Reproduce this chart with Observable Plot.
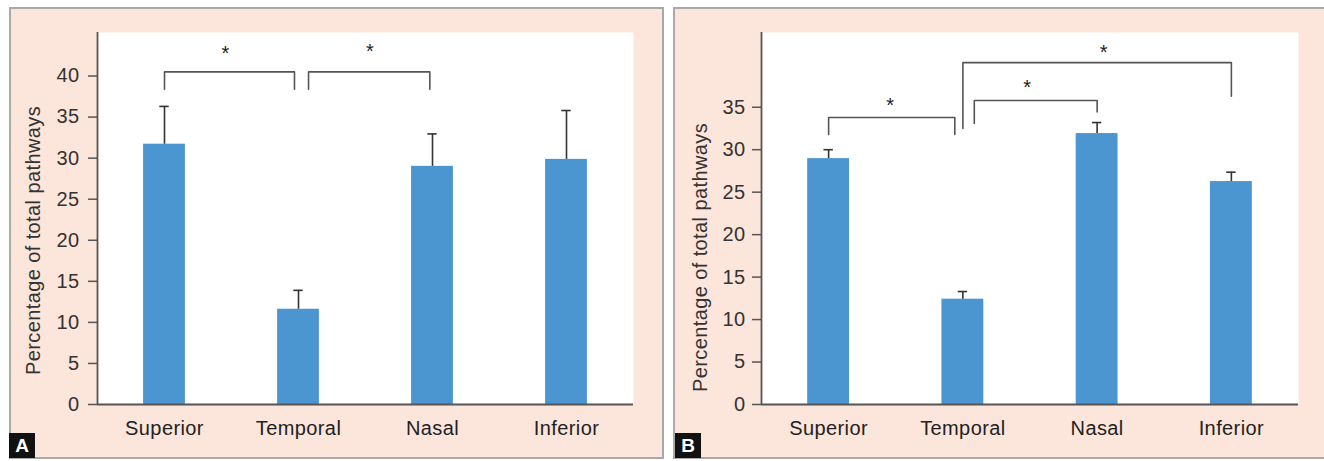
<!DOCTYPE html>
<html>
<head>
<meta charset="utf-8">
<script src="https://cdn.jsdelivr.net/npm/d3@7"></script>
<script src="https://cdn.jsdelivr.net/npm/@observablehq/plot@0.6"></script>
<style>
  html, body { margin: 0; padding: 0; background: #ffffff; width: 1324px; height: 461px; overflow: hidden; }
  .panel { position: absolute; background: #fce5da; box-sizing: border-box; border: 2px solid #a9a9a9; }
  .chart { position: absolute; }
  .tag { position: absolute; width: 26px; height: 25px; background: #111; color: #fff;
         font: bold 19px "Liberation Sans", Arial, sans-serif; display: flex; align-items: center; justify-content: center; }
</style>
</head>
<body>
<div class="panel" style="left:9px;top:7px;width:655px;height:452px;"></div>
<div class="panel" style="left:673px;top:7px;width:655px;height:452px;"></div>
<div id="chartA" class="chart" style="left:9px;top:7px;"></div>
<div id="chartB" class="chart" style="left:674px;top:7px;"></div>
<div class="tag" style="left:9px;top:433px;">A</div>
<div class="tag" style="left:675px;top:433px;">B</div>
<script>
// ---- data ----
const categories = ["Superior", "Temporal", "Nasal", "Inferior"];
const yTicksA = [0, 5, 10, 15, 20, 25, 30, 35, 40];
const yTicksB = [0, 5, 10, 15, 20, 25, 30, 35];
const yLabel = "Percentage of total pathways";

const valuesA = [31.7, 11.6, 29.0, 29.85];
const errTopA = [36.3, 13.9, 32.95, 35.8];
const valuesB = [28.95, 12.4, 31.9, 26.25];
const errTopB = [30.0, 13.3, 33.2, 27.35];

// significance brackets: [fromIndex, toIndex, leftLegBottom, top, rightLegBottom]
const bracketsA = [
  [0.0, 0.97, 38.4, 40.5, 38.4],
  [1.075, 1.98, 38.4, 40.5, 38.4]
];
const bracketsB = [
  [0.0, 0.94, 31.8, 33.8, 31.8],
  [1.085, 2.0, 33.1, 35.8, 34.45],
  [1.0, 3.0, 32.5, 40.25, 36.3]
];
// star markers: [x position (category units), top of star (y units)]
const starsA = [[0.455, 43.7], [1.535, 43.9]];
const starsB = [[0.46, 36.1], [1.48, 38.2], [2.05, 42.3]];

function build(values, errs, brackets, stars, yTicks, yMax, opts) {
  const bars = categories.map((c, i) => ({i, cat: c, value: values[i], err: errs[i]}));
  const pts = [];
  brackets.forEach((b, k) => {
    pts.push({k, x: b[0], y: b[2]});
    pts.push({k, x: b[0], y: b[3]});
    pts.push({k, x: b[1], y: b[3]});
    pts.push({k, x: b[1], y: b[4]});
  });
  const starData = stars.map(s => ({x: s[0], y: s[1]}));
  const hw = 0.156, cap = 0.035;
  return Plot.plot({
    width: opts.width,
    height: 452,
    marginLeft: opts.marginLeft,
    marginRight: opts.marginRight,
    marginTop: 25,
    marginBottom: 55,
    style: {background: "transparent", fontFamily: "'Liberation Sans', Arial, sans-serif", letterSpacing: "0.4px", color: "#333"},
    x: {type: "linear", domain: [-0.5, 3.5]},
    y: {domain: [0, yMax]},
    marks: [
      Plot.frame({fill: "white", stroke: "none"}),
      Plot.rectY(bars, {x1: d => d.i - hw, x2: d => d.i + hw, y1: 0, y2: "value", fill: "#4b96d1"}),
      Plot.ruleX(bars, {x: "i", y1: "value", y2: "err", stroke: "#333", strokeWidth: 1.6}),
      Plot.ruleY(bars, {y: "err", x1: d => d.i - cap, x2: d => d.i + cap, stroke: "#333", strokeWidth: 1.6}),
      Plot.line(pts, {x: "x", y: "y", z: "k", stroke: "#555", strokeWidth: 1.6, curve: "linear"}),
      Plot.text(starData, {x: "x", y: "y", text: () => "*", lineAnchor: "top", fontSize: 20, fill: "#222"}),
      Plot.ruleX([-0.5], {stroke: "#555", strokeWidth: 1.8}),
      Plot.ruleY([0], {stroke: "#555", strokeWidth: 1.8}),
      Plot.axisY({ticks: yTicks, tickSize: 9, tickPadding: opts.tickPadding, fontSize: 20, label: null, stroke: "#555", fill: "#333", strokeWidth: 1.5}),
      Plot.axisX({ticks: [0, 1, 2, 3], tickFormat: i => categories[i], tickSize: 0, tickPadding: 16, fontSize: 20, label: null, fill: "#222"}),
      Plot.text([yLabel], {frameAnchor: "left", textAnchor: "middle", lineAnchor: "middle", rotate: -90, dx: opts.labelDx, dy: opts.labelDy, fontSize: 20, fill: "#333"})
    ]
  });
}

document.getElementById("chartA").append(
  build(valuesA, errTopA, bracketsA, starsA, yTicksA, 45.3,
        {width: 655, marginLeft: 88, marginRight: 31, tickPadding: 9, labelDx: -64, labelDy: 22})
);
document.getElementById("chartB").append(
  build(valuesB, errTopB, bracketsB, starsB, yTicksB, 43.8,
        {width: 650, marginLeft: 87, marginRight: 26, tickPadding: 7, labelDx: -61, labelDy: 39})
);
</script>
</body>
</html>
